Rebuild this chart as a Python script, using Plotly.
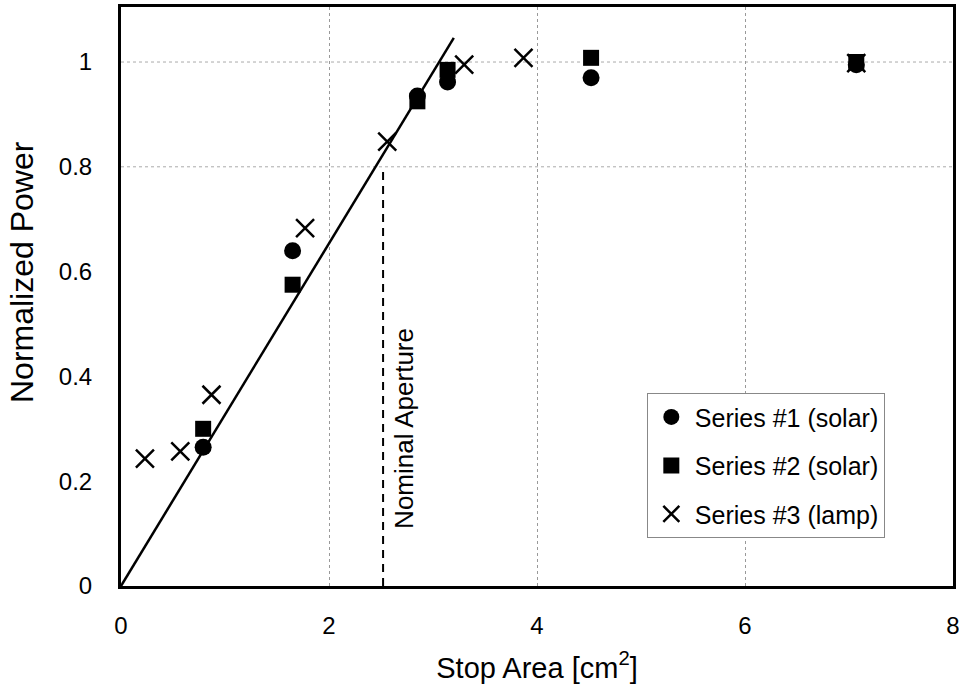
import plotly.graph_objects as go

# Data
s1_x = [0.79, 1.65, 2.85, 3.14, 4.52, 7.07]
s1_y = [0.265, 0.64, 0.935, 0.962, 0.97, 0.995]
s2_x = [0.79, 1.65, 2.85, 3.14, 4.52, 7.07]
s2_y = [0.30, 0.575, 0.925, 0.985, 1.008, 1.0]
s3_x = [0.23, 0.57, 0.87, 1.77, 2.56, 3.30, 3.87, 7.07]
s3_y = [0.243, 0.257, 0.365, 0.683, 0.848, 0.995, 1.008, 0.998]
fit_x = [0.0, 3.2]
fit_y = [0.0, 1.046]
nominal_x = 2.52
nominal_top = 0.80
xticks = [0, 2, 4, 6, 8]
yticks = [0, 0.2, 0.4, 0.6, 0.8, 1]
ytick_text = ["0", "0.2", "0.4", "0.6", "0.8", "1"]
ygrid_vals = [0.8, 1.0]

FONT = "Liberation Sans, Arial, sans-serif"

fig = go.Figure()
fig.add_trace(go.Scatter(x=fit_x, y=fit_y, mode="lines",
                         line=dict(color="black", width=2.5),
                         showlegend=False, hoverinfo="skip"))
fig.add_trace(go.Scatter(x=[nominal_x, nominal_x], y=[0, nominal_top], mode="lines",
                         line=dict(color="black", width=2, dash="8px,6px"),
                         showlegend=False, hoverinfo="skip"))
fig.add_trace(go.Scatter(x=s1_x, y=s1_y, mode="markers", name="Series #1 (solar)",
                         legendgroup="a",
                         marker=dict(symbol="circle", size=17, color="black")))
fig.add_trace(go.Scatter(x=s2_x, y=s2_y, mode="markers", name="Series #2 (solar)",
                         legendgroup="b",
                         marker=dict(symbol="square", size=16, color="black")))
fig.add_trace(go.Scatter(x=s3_x, y=s3_y, mode="markers", name="Series #3 (lamp)",
                         legendgroup="c",
                         marker=dict(symbol="x-thin-open", size=18, color="black",
                                     line=dict(color="black", width=2.5))))

shapes = []
for gv in ygrid_vals:
    shapes.append(dict(type="line", xref="paper", yref="y", x0=0, x1=1, y0=gv, y1=gv,
                       line=dict(color="#aaaaaa", width=1, dash="dot"), layer="below"))

fig.update_layout(
    width=959, height=685,
    margin=dict(l=121, r=6, t=7, b=99, autoexpand=False),
    paper_bgcolor="white", plot_bgcolor="white",
    font=dict(family=FONT, color="black", size=24),
    shapes=shapes,
    showlegend=True,
    legend=dict(x=0.632, y=0.333, xanchor="left", yanchor="top",
                bordercolor="#888888", borderwidth=1, bgcolor="white",
                font=dict(size=25, family=FONT), tracegroupgap=13,
                itemwidth=37),
    annotations=[
        dict(x=nominal_x, y=0.30, xref="x", yref="y", text="Nominal Aperture",
             textangle=-90, showarrow=False, xshift=21,
             font=dict(size=26, family=FONT)),
        dict(x=0, y=(586 - 272) / 579, xref="paper", yref="paper", text="Normalized Power",
             textangle=-90, showarrow=False, xanchor="center", yanchor="middle",
             xshift=-99, font=dict(size=32, family=FONT)),
    ],
)
fig.update_xaxes(range=[0, 8], tickvals=xticks, showgrid=True, automargin=False,
                 gridcolor="#999999", griddash="dot", gridwidth=1,
                 showline=True, linecolor="black", linewidth=3, mirror=True,
                 zeroline=False, ticks="", ticklabelstandoff=16, ticklabeloverflow="allow",
                 tickfont=dict(size=24),
                 title=dict(text="Stop Area [cm<sup>2</sup>]", font=dict(size=29), standoff=20))
fig.update_yaxes(range=[0, 1.105], tickvals=yticks, ticktext=ytick_text, showgrid=False,
                 automargin=False,
                 showline=True, linecolor="black", linewidth=3, mirror=True,
                 zeroline=False, ticks="", ticklabelstandoff=21,
                 tickfont=dict(size=24))

fig.write_html("out.html", config={"displayModeBar": False},
               post_script="document.body.style.margin='0';")
